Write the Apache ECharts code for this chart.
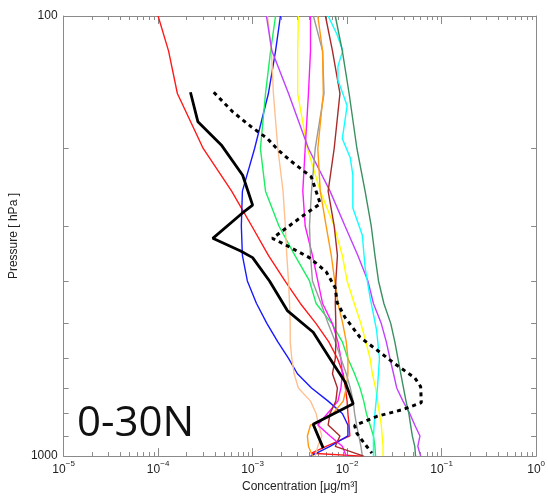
<!DOCTYPE html>
<html>
<head>
<meta charset="utf-8">
<script src="https://cdn.jsdelivr.net/npm/echarts@6/dist/echarts.min.js"></script>
<style>html,body{margin:0;padding:0;background:#fff}#c{width:548px;height:498px}</style>
</head>
<body>
<div id="c"></div>
<script>
// Standard pressure levels [hPa]
const P_STD = [100,120,150,200,250,300,350,400,450,500,550,600,650,700,750,800,850,900,950,1000];

// Concentrations [ug/m3] on P_STD
const BLUE    = [1.97e-3,1.75e-3,1.47e-3,1.05e-3,7.8e-4,7.6e-4,7.8e-4,8.8e-4,1.1e-3,1.42e-3,1.85e-3,2.4e-3,2.98e-3,4.2e-3,6.3e-3,8.9e-3,1.02e-2,1.02e-2,6.6e-3,4.1e-3];
const GREEN   = [1.75e-3,1.55e-3,1.37e-3,1.21e-3,1.37e-3,1.9e-3,2.8e-3,4.0e-3,4.7e-3,6.9e-3,8.9e-3,1.02e-2,1.2e-2,1.37e-2,1.5e-2,1.6e-2,1.75e-2,1.9e-2,1.97e-2,2.0e-2];
const PEACH   = [1.44e-3,1.58e-3,1.66e-3,1.85e-3,2.1e-3,2.22e-3,2.3e-3,2.4e-3,2.46e-3,2.5e-3,2.5e-3,2.6e-3,2.75e-3,3.05e-3,4.1e-3,4.7e-3,5.0e-3,5.4e-3,4.9e-3,4.6e-3];
const YELLOW  = [3.05e-3,3.0e-3,3.0e-3,3.8e-3,5.2e-3,7.3e-3,8.9e-3,1.0e-2,1.19e-2,1.4e-2,1.58e-2,1.75e-2,1.85e-2,2.0e-2,2.1e-2,2.2e-2,2.3e-2,2.35e-2,2.4e-2,2.4e-2];
const MAGENTA = [4.1e-3,4.1e-3,3.9e-3,3.6e-3,3.4e-3,3.6e-3,4.3e-3,4.9e-3,5.5e-3,7.0e-3,8.0e-3,8.6e-3,8.9e-3,8.6e-3,8.0e-3,6.2e-3,4.9e-3,6.6e-3,8.9e-3,9.8e-3];
const PURPLE  = [1.4e-3,1.6e-3,2.4e-3,3.9e-3,6.6e-3,9.5e-3,1.3e-2,1.66e-2,1.9e-2,2.3e-2,2.6e-2,2.84e-2,3.1e-2,3.35e-2,3.9e-2,4.6e-2,5.2e-2,5.9e-2,5.6e-2,6.0e-2];
const GRAY    = [4.4e-3,5.5e-3,5.7e-3,4.6e-3,4.2e-3,4.0e-3,4.1e-3,4.3e-3,5.3e-3,6.3e-3,7.5e-3,8.6e-3,9.8e-3,1.08e-2,1.16e-2,1.2e-2,1.26e-2,1.33e-2,1.4e-2,1.45e-2];
const ORANGE  = [4.9e-3,5.5e-3,5.6e-3,4.9e-3,5.2e-3,6.0e-3,6.8e-3,7.4e-3,8.0e-3,9.0e-3,9.8e-3,1.02e-2,1.02e-2,9.8e-3,9.1e-3,7.1e-3,4.1e-3,3.8e-3,3.9e-3,4.3e-3];
const DARKRED = [5.9e-3,7.0e-3,8.4e-3,7.3e-3,6.3e-3,7.3e-3,7.9e-3,7.6e-3,7.5e-3,7.6e-3,7.6e-3,7.5e-3,7.0e-3,7.9e-3,7.6e-3,6.6e-3,6.3e-3,8.4e-3,7.5e-3,1.5e-2];
const SEAGREEN= [7.5e-3,8.9e-3,1.05e-2,1.27e-2,1.55e-2,1.8e-2,1.97e-2,2.15e-2,2.45e-2,2.9e-2,3.2e-2,3.45e-2,3.7e-2,3.95e-2,4.2e-2,4.5e-2,4.7e-2,4.9e-2,5.2e-2,5.3e-2];

// Series with their own pressure levels
const RED_P  = [100,120,150,200,250,300,350,400,450,500,550,600,650,700,750,800,850,900,950,985,1000];
const RED_C  = [1.0e-4,1.29e-4,1.6e-4,3.0e-4,6.0e-4,9.8e-4,1.47e-3,2.2e-3,3.2e-3,4.7e-3,6.4e-3,7.9e-3,9.1e-3,9.6e-3,1.0e-2,1.02e-2,1.05e-2,1.07e-2,6.0e-3,4.2e-3,1.45e-2];
const CYAN_P = [100,110,120,130,140,150,160,190,210,230,273,315,373,436,517,600,695,800,900,1000];
const CYAN_C = [6.3e-3,7.8e-3,9.0e-3,8.0e-3,8.0e-3,9.0e-3,1.0e-2,8.9e-3,1.08e-2,1.15e-2,1.15e-2,1.45e-2,1.55e-2,1.75e-2,2.05e-2,2.2e-2,2.1e-2,1.97e-2,1.9e-2,1.9e-2];
const BLACK_P = [149,174,197,230,269,281,320,342,354,400,467,523,617,678,760,847,959];
const BLACK_C = [2.2e-4,2.64e-4,4.72e-4,7.85e-4,1.0e-3,7.7e-4,3.79e-4,7.47e-4,1.0e-3,1.51e-3,2.33e-3,4.38e-3,7.13e-3,9.5e-3,1.16e-2,4.38e-3,5.59e-3];
const DASH_P = [149,165,178,190,202,215,232,267,284,320,331,354,381,414,448,484,537,574,617,664,695,756,784,812,852,888,940,985];
const DASH_C = [3.88e-4,6.15e-4,9.5e-4,1.44e-3,1.88e-3,2.64e-3,4.18e-3,5.2e-3,3.44e-3,1.62e-3,2.22e-3,3.98e-3,6.0e-3,7.47e-3,7.86e-3,9.5e-3,1.37e-2,2.07e-2,3.2e-2,5.2e-2,6.0e-2,6.1e-2,3.88e-2,2.07e-2,1.2e-2,1.27e-2,1.55e-2,1.83e-2];

// Axis ranges / ticks
const X_MIN = 1e-5, X_MAX = 1;
const Y_MIN = 100, Y_MAX = 1000;
const X_DECADES = [-5,-4,-3,-2,-1,0];

const xMinor = [];
for (let n = -5; n < 0; n++) for (let k = 2; k <= 9; k++) xMinor.push(n + Math.log10(k));
const yMinor = [];
for (let k = 2; k <= 9; k++) yMinor.push(2 + Math.log10(k));

function pairs(c, p) { return c.map((v, i) => [v, p[i]]); }

const AX = '#8a8a8a';
const FONT = 'Liberation Sans';

const thin = [
  ['red', '#ff1a1a', RED_C, RED_P],
  ['blue', '#1a1aff', BLUE, P_STD],
  ['green', '#19f060', GREEN, P_STD],
  ['peach', '#ffc090', PEACH, P_STD],
  ['yellow', '#ffff00', YELLOW, P_STD],
  ['magenta', '#ff19ff', MAGENTA, P_STD],
  ['purple', '#c040ff', PURPLE, P_STD],
  ['gray', '#9a9a9a', GRAY, P_STD],
  ['orange', '#ff9a10', ORANGE, P_STD],
  ['darkred', '#a82a2a', DARKRED, P_STD],
  ['cyan', '#10ffff', CYAN_C, CYAN_P],
  ['seagreen', '#3a9060', SEAGREEN, P_STD]
];

const series = thin.map(([name, color, c, p]) => ({
  name, type: 'line', xAxisIndex: 0, yAxisIndex: 0, showSymbol: false, symbol: 'none',
  data: pairs(c, p), lineStyle: { color, width: 1.4 }, z: 2
}));
series.push({
  name: 'model mean', type: 'line', xAxisIndex: 0, yAxisIndex: 0, symbol: 'none',
  data: pairs(BLACK_C, BLACK_P), lineStyle: { color: '#000', width: 2.8 }, z: 4
});
series.push({
  name: 'obs', type: 'line', xAxisIndex: 0, yAxisIndex: 0, symbol: 'none',
  data: pairs(DASH_C, DASH_P), lineStyle: { color: '#000', width: 3, type: [4, 4] }, z: 4
});

function supText(n) { return n < 0 ? '\u2212' + (-n) : String(n); }

const decoX = (pos, vals, len, line) => ({
  type: 'value', position: pos, min: -5, max: 0, gridIndex: 0,
  axisLine: { show: !!line, onZero: false, lineStyle: { color: AX } },
  axisLabel: { show: false }, splitLine: { show: false },
  axisTick: { show: true, inside: true, length: len, customValues: vals, lineStyle: { color: AX } }
});
const decoY = (pos, vals, len, line) => ({
  type: 'value', position: pos, min: 2, max: 3, inverse: true, gridIndex: 0,
  axisLine: { show: !!line, onZero: false, lineStyle: { color: AX } },
  axisLabel: { show: false }, splitLine: { show: false },
  axisTick: { show: true, inside: true, length: len, customValues: vals, lineStyle: { color: AX } }
});

const option = {
  animation: false,
  backgroundColor: '#fff',
  title: {
    text: '0-30N', left: 72, top: 398,
    textStyle: { fontFamily: 'Open Sans', fontSize: 42, fontWeight: 'normal', color: '#111' }
  },
  grid: { left: 62, right: 11, top: 16, bottom: 38, containLabel: false },
  xAxis: [
    {
      type: 'log', logBase: 10, min: X_MIN, max: X_MAX, position: 'bottom',
      name: 'Concentration [\u03bcg/m\u00b3]', nameLocation: 'middle', nameGap: 22,
      nameTextStyle: { fontFamily: FONT, fontSize: 12, color: '#222' },
      axisLine: { show: true, onZero: false, lineStyle: { color: AX } },
      axisTick: { show: true, inside: true, length: 8, lineStyle: { color: AX } },
      splitLine: { show: false },
      axisLabel: {
        margin: 4, color: '#222',
        formatter: v => '{b|10}{s|' + supText(Math.round(Math.log10(v))) + '}',
        rich: {
          b: { fontFamily: FONT, fontSize: 12, color: '#222', lineHeight: 16, verticalAlign: 'bottom' },
          s: { fontFamily: FONT, fontSize: 8, color: '#222', lineHeight: 8, verticalAlign: 'top' }
        }
      }
    },
    decoX('bottom', xMinor, 4, false),
    decoX('top', X_DECADES, 8, true),
    decoX('top', xMinor, 4, false)
  ],
  yAxis: [
    {
      type: 'log', logBase: 10, min: Y_MIN, max: Y_MAX, inverse: true, position: 'left',
      name: 'Pressure [ hPa ]', nameLocation: 'middle', nameGap: 40, nameRotate: 90,
      nameTextStyle: { fontFamily: FONT, fontSize: 12, color: '#222' },
      axisLine: { show: true, onZero: false, lineStyle: { color: AX } },
      axisTick: { show: true, inside: true, length: 8, lineStyle: { color: AX } },
      splitLine: { show: false },
      axisLabel: { margin: 6, fontFamily: FONT, fontSize: 12, color: '#222', formatter: v => String(Math.round(v)) }
    },
    decoY('left', yMinor, 5, false),
    decoY('right', yMinor, 5, true)
  ],
  series
};

const chart = echarts.init(document.getElementById('c'), null, { renderer: 'canvas' });
chart.setOption(option);
</script>
</body>
</html>
